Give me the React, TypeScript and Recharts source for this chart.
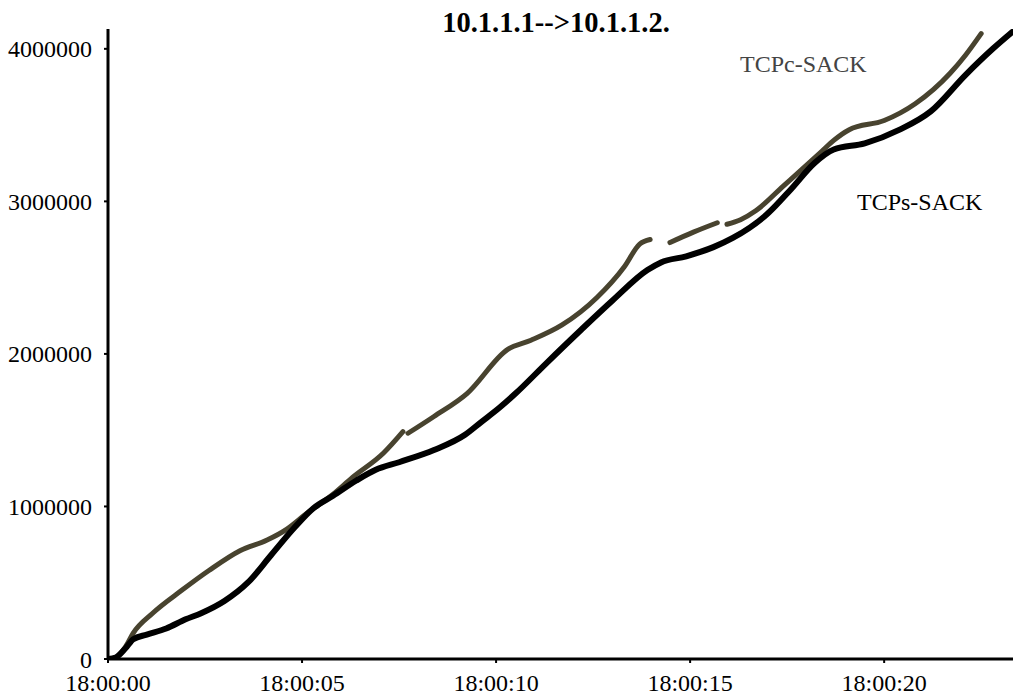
import React from "react"
import { LineChart, Line, XAxis, YAxis } from "recharts"

// seconds after 18:00:00 and bytes (millions) for each trace
const sackServerTimes = [
  0, 0.2, 0.45, 0.65, 1.0, 1.5, 2.0, 2.4, 3.0, 3.6, 4.2, 4.8, 5.3, 5.8, 6.4, 6.9,
  7.5, 8.4, 9.2, 9.6, 10.1, 10.5, 11.3, 12.2, 13.0, 13.9, 14.25, 14.9, 15.6,
  16.1, 17.0, 17.6, 18.2, 18.7, 19.5, 20.4, 21.2, 22.1, 22.8, 23.3,
]
const sackServerBytes = [
  0, 0.01, 0.07, 0.13, 0.16, 0.2, 0.26, 0.3, 0.38, 0.5, 0.68, 0.86, 0.99, 1.07,
  1.17, 1.24, 1.29, 1.37, 1.47, 1.55, 1.65, 1.74, 1.94, 2.16, 2.35, 2.55, 2.6,
  2.64, 2.7, 2.76, 2.92, 3.08, 3.25, 3.34, 3.38, 3.47, 3.59, 3.83, 4.0, 4.11,
]

const sackClientTimes = [
  0, 0.2, 0.45, 0.65, 1.15, 1.9, 2.6, 3.4, 4.1, 4.6, 5.1, 5.8, 6.3, 7.1, 7.6,
  7.66, 7.73, 8.4, 9.25, 10.3, 10.9, 11.7, 12.6, 13.3, 13.7, 13.97, 14.2, 14.48,
  15.1, 15.7, 15.82, 15.95, 16.3, 16.7, 17.4, 18.4, 18.7, 19.1, 20.0, 20.8,
  21.7, 22.1, 22.5,
]
// null = gap in the trace
const sackClientBytes: (number | null)[] = [
  0, 0.01, 0.08, 0.17, 0.3, 0.45, 0.58, 0.71, 0.78, 0.85, 0.95, 1.08, 1.19,
  1.35, 1.49, null, 1.48, 1.59, 1.74, 2.03, 2.09, 2.19, 2.37, 2.57, 2.72, 2.75,
  null, 2.73, 2.8, 2.86, null, 2.85, 2.88, 2.94, 3.1, 3.33, 3.4, 3.47, 3.53,
  3.64, 3.84, 3.96, 4.1,
]

const xTicks = [0, 5, 10, 15, 20]
const xTickLabels = ["18:00:00", "18:00:05", "18:00:10", "18:00:15", "18:00:20"]
const yTicks = [0, 1000000, 2000000, 3000000, 4000000]

const toRows = (times: number[], bytes: (number | null)[]) =>
  times.map((t, i) => ({ t, v: bytes[i] == null ? null : bytes[i]! * 1e6 }))

const serverData = toRows(sackServerTimes, sackServerBytes)
const clientData = toRows(sackClientTimes, sackClientBytes)

const font = "'Liberation Serif', 'Times New Roman', serif"
const tickStyle = { fontSize: 24, fill: "#000", fontFamily: font }

export default function App() {
  return (
    <div style={{ position: "absolute", left: 0, top: 0, width: 1013, height: 698, background: "#fff" }}>
      <LineChart
        width={1013}
        height={698}
        margin={{ top: 29, right: 0, left: 0, bottom: 0 }}
      >
        <XAxis
          type="number"
          dataKey="t"
          domain={[0, 23.32]}
          ticks={xTicks}
          allowDataOverflow
          height={39}
          tickSize={4}
          tickMargin={11}
          tick={tickStyle}
          tickFormatter={(t: number) => xTickLabels[xTicks.indexOf(t)] ?? ""}
          axisLine={{ stroke: "#000", strokeWidth: 3 }}
          tickLine={{ stroke: "#000", strokeWidth: 2 }}
        />
        <YAxis
          type="number"
          domain={[0, 4130000]}
          ticks={yTicks}
          allowDataOverflow
          width={108}
          tickSize={4}
          tickMargin={12}
          tick={tickStyle}
          tickFormatter={(v: number) => String(v)}
          axisLine={{ stroke: "#000", strokeWidth: 3 }}
          tickLine={{ stroke: "#000", strokeWidth: 2 }}
        />
        <Line
          data={clientData}
          dataKey="v"
          type="monotone"
          stroke="#48432f"
          strokeWidth={5}
          strokeLinecap="round"
          dot={false}
          connectNulls={false}
          isAnimationActive={false}
        />
        <Line
          data={serverData}
          dataKey="v"
          type="monotone"
          stroke="#000"
          strokeWidth={6}
          strokeLinecap="round"
          dot={false}
          isAnimationActive={false}
        />
      </LineChart>
      <svg
        width={1013}
        height={698}
        style={{ position: "absolute", left: 0, top: 0, pointerEvents: "none" }}
      >
        <text x={556} y={32} textAnchor="middle" fontFamily={font} fontWeight="bold" fontSize={28.5} fill="#000">
          10.1.1.1--&gt;10.1.1.2.
        </text>
        <text x={740} y={72} fontFamily={font} fontSize={24} fill="#444">
          TCPc-SACK
        </text>
        <text x={857} y={210} fontFamily={font} fontSize={24} fill="#000">
          TCPs-SACK
        </text>
      </svg>
    </div>
  )
}
